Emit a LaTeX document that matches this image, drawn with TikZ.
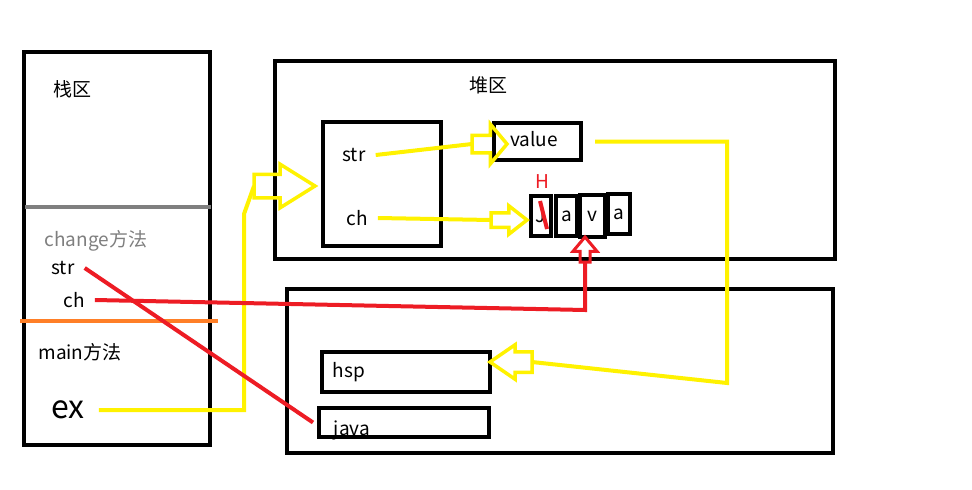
\documentclass[tikz,border=0pt]{standalone}
\usepackage{fontspec}
\newfontfamily\cjk{Noto Sans CJK SC}
\usetikzlibrary{shapes.arrows,positioning}
\definecolor{pyellow}{RGB}{255,242,0}
\definecolor{pred}{RGB}{237,28,36}
\definecolor{porange}{RGB}{255,127,39}
\definecolor{pgray}{RGB}{127,127,127}
\tikzset{
  box/.style={draw, line width=4pt, rectangle, inner sep=0pt, outer sep=0pt, anchor=north west},
  lbl/.style={font=\cjk\fontsize{19}{21}\selectfont, inner sep=0pt},
  yline/.style={pyellow, line width=4pt},
  rline/.style={pred, line width=4pt},
  hollow/.style={single arrow, draw=pyellow, line width=3.5pt, inner sep=0pt, outer sep=0pt, anchor=tail, text depth=0pt},
}
\begin{document}
\begin{tikzpicture}[x=1pt,y=-1pt]
\useasboundingbox[fill=white] (0,0) rectangle (972,490);
% Stack area
\node[box, minimum width=186pt, minimum height=393pt] (stack) at (24,52) {};
\draw[pgray, line width=4pt] (25,207) -- (211,207);
\draw[porange, line width=4pt] (20,321) -- (218,321);
\node[lbl] (stacktitle) at (72,89) {栈区};
\node[lbl, pgray] (change) at (96,241) {change方法};
\node[lbl] (str1) at (63,268) {str};
\node[lbl] (ch1) at (74,300) {ch};
\node[lbl] (mainm) at (80,352) {main方法};
\node[lbl, font=\cjk\fontsize{32}{34}\selectfont] (ex) at (68,410) {ex};
% Heap area (top)
\node[box, minimum width=560pt, minimum height=198pt] (heap) at (275,61) {};
\node[lbl] (heaptitle) at (488,85) {堆区};
\node[box, minimum width=118pt, minimum height=124pt] (obj) at (323,122) {};
\node[lbl] (str2) at (354,155) {str};
\node[lbl] (ch2) at (357,218) {ch};
\node[box, minimum width=87pt, minimum height=37pt] (value) at (494,123) {};
\node[lbl] (valuetext) at (534,139) {value};
\node[lbl, pred] (hnew) at (542,182) {H};
\node[box, lbl, minimum width=20pt, minimum height=40pt] (cJ) at (531,196) {J};
\node[box, lbl, minimum width=21pt, minimum height=40pt] (ca1) at (556,196) {a};
\node[box, lbl, minimum width=25pt, minimum height=42pt] (cv) at (580,195) {v};
\node[box, lbl, minimum width=22pt, minimum height=40pt] (ca2) at (608,194) {a};
\draw[rline] (540,201) -- (547,229);
% Heap area (bottom)
\node[box, minimum width=546pt, minimum height=164pt] (heap2) at (287,289) {};
\node[box, minimum width=168pt, minimum height=40pt] (hsp) at (322,352) {};
\node[lbl] (hsptext) at (349,372) {hsp};
\node[box, minimum width=170pt, minimum height=29pt] (java) at (319,408) {};
\node[lbl] (javatext) at (352,430) {java};
% Hollow arrows
\node[hollow, text height=20pt, minimum height=61pt, single arrow head extend=10pt, single arrow tip angle=64] (toobj) at (254,186) {};
\node[hollow, text height=14pt, minimum height=35pt, single arrow head extend=11pt, single arrow tip angle=100] (tovalue) at (472,144) {};
\node[hollow, text height=11pt, minimum height=36pt, single arrow head extend=7pt, single arrow tip angle=76] (toarr) at (491,220) {};
\node[hollow, text height=17pt, minimum height=42pt, single arrow head extend=7pt, single arrow tip angle=69, shape border rotate=180] (tohsp) at (532,362) {};
\node[hollow, draw=pred, line width=3pt, text height=7pt, text width=7pt, minimum height=25pt, single arrow head extend=7pt, single arrow tip angle=80, shape border rotate=90] (tov) at (585,262) {};
% References
\coordinate (exbend) at (244,214);
\draw[yline] ([xshift=14pt]ex.east) -| (exbend) -- (toobj.tail);
\draw[yline] ([xshift=10pt]str2.east) -- (tovalue.tail);
\draw[yline] ([xshift=10pt]ch2.east) -- (toarr.tail);
\draw[yline] ([xshift=14pt]value.east) -| (727,383) -- (tohsp.tail);
\draw[rline] ([xshift=10pt]str1.east) -- ([xshift=-6pt]java.west);
\coordinate (rbend) at (585,310);
\draw[rline] ([xshift=10pt]ch1.east) -- (rbend) -- (tov.tail);
\end{tikzpicture}
\end{document}
